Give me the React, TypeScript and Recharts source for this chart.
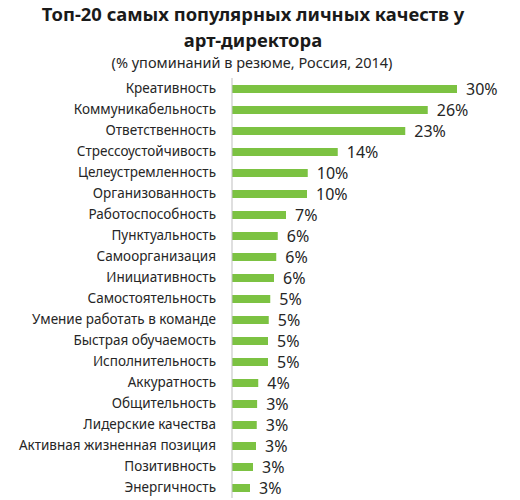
import { BarChart, Bar, XAxis, YAxis, LabelList } from "recharts";

const qualities = [
  "Креативность",
  "Коммуникабельность",
  "Ответственность",
  "Стрессоустойчивость",
  "Целеустремленность",
  "Организованность",
  "Работоспособность",
  "Пунктуальность",
  "Самоорганизация",
  "Инициативность",
  "Самостоятельность",
  "Умение работать в команде",
  "Быстрая обучаемость",
  "Исполнительность",
  "Аккуратность",
  "Общительность",
  "Лидерские качества",
  "Активная жизненная позиция",
  "Позитивность",
  "Энергичность",
];

const shares = [30, 26.1, 23.1, 14.1, 10.1, 10, 7.2, 6.1, 5.9, 5.6, 5.1, 4.9, 4.8, 4.8, 3.5, 3.35, 3.3, 3.2, 2.8, 2.4];

const shareLabels = ["30%", "26%", "23%", "14%", "10%", "10%", "7%", "6%", "6%", "6%", "5%", "5%", "5%", "5%", "4%", "3%", "3%", "3%", "3%", "3%"];

const data = qualities.map((name, i) => ({ name, value: shares[i], label: shareLabels[i] }));

const FONT = "'Noto Sans', sans-serif";

export default function App() {
  return (
    <div style={{ position: "absolute", left: 0, top: 0, width: 520, height: 500, background: "#fff", fontFamily: FONT }}>
      <div style={{ position: "absolute", left: 0, top: 1, width: 506, textAlign: "center", fontWeight: 700, fontSize: 18.4, lineHeight: "26px", color: "#1a1a1a" }}>
        Топ-20 самых популярных личных качеств у
        <br />
        арт-директора
      </div>
      <div style={{ position: "absolute", left: 0, top: 52, width: 504, textAlign: "center", fontSize: 14.5, color: "#262626" }}>
        (% упоминаний в резюме, Россия, 2014)
      </div>
      <BarChart
        width={520}
        height={500}
        data={data}
        layout="vertical"
        margin={{ top: 78, right: 63, bottom: 2, left: 0 }}
        barCategoryGap={6}
      >
        <XAxis type="number" domain={[0, 30]} hide />
        <YAxis
          type="category"
          dataKey="name"
          width={232}
          interval={0}
          tickLine={false}
          tickMargin={10}
          axisLine={{ stroke: "#bfbfbf" }}
          tick={{ fontSize: 13.5, fill: "#262626", fontFamily: FONT }}
        />
        <Bar dataKey="value" fill="#7cc242" barSize={8} isAnimationActive={false}>
          <LabelList dataKey="label" position="right" offset={9} style={{ fontSize: 16, fill: "#262626", fontFamily: FONT }} />
        </Bar>
      </BarChart>
    </div>
  );
}
